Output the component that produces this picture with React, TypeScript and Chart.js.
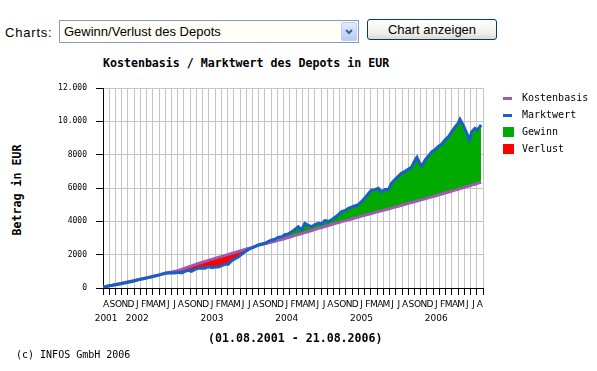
import React, { useEffect, useRef } from "react";
import { Chart, registerables } from "chart.js";

Chart.register(...registerables);

// ---------- data ----------
const monthLetters = [
  "A", "S", "O", "N", "D",
  "J", "F", "M", "A", "M", "J", "J", "A", "S", "O", "N", "D",
  "J", "F", "M", "A", "M", "J", "J", "A", "S", "O", "N", "D",
  "J", "F", "M", "A", "M", "J", "J", "A", "S", "O", "N", "D",
  "J", "F", "M", "A", "M", "J", "J", "A", "S", "O", "N", "D",
  "J", "F", "M", "A", "M", "J", "J", "A",
];
const yearSlots = [0, 5, 17, 29, 41, 53];
const yearLabels = ["2001", "2002", "2003", "2004", "2005", "2006"];

const yTickValues = [0, 2000, 4000, 6000, 8000, 10000, 12000];
const yTickLabels = ["0", "2000", "4000", "6000", "8000", "10.000", "12.000"];

// position in months since 01.08.2001
const monthPos = [
  0, 0.5, 1, 1.5, 2, 2.5, 3, 3.5, 4, 4.5, 5, 5.5, 6, 6.5, 7, 7.5, 8, 8.5, 9, 9.5, 10, 10.5, 11,
  11.56, 12.09, 12.63, 13.16, 13.7, 14.2, 14.77, 15.3, 15.84, 16.37, 16.9, 17.45, 17.98, 18.5,
  19.05, 19.6, 20.1, 20.65, 21.2, 21.7, 22.26, 22.8, 23.3, 23.9, 24.4, 24.9, 25.5, 26.0, 26.5,
  27.1, 27.6, 28.1, 28.7, 29.2,
  29.7, 30.3, 30.7, 31.35, 31.9, 32.4, 33.0, 33.5, 34.0, 34.6, 35.1, 35.6, 36.2, 36.7, 37.2,
  37.8, 38.3, 38.9, 39.4, 39.9, 40.4, 41.0, 41.5, 42.3, 43.1, 43.6, 44.2, 44.7, 45.3, 45.8,
  46.3, 46.9, 47.4, 47.9, 48.5, 49.0, 49.5, 50.1, 50.4, 50.8, 51.2, 51.7, 52.2, 52.8, 53.3,
  53.8, 54.4, 54.9, 55.5, 56.0, 56.5, 57.0, 57.3, 57.8, 58.4, 58.8, 59.2, 59.7, 60.0, 60.5, 60.7,
];

const marktwert = [
  60, 90, 130, 160, 200, 230, 270, 300, 340, 380, 420, 470, 520, 560, 600, 650, 690, 740, 780, 830, 880, 910, 900,
  900, 940, 900, 1000, 1060, 1000, 1120, 1180, 1200, 1180, 1280, 1220, 1260, 1260,
  1340, 1420, 1420, 1640, 1760, 1860, 2020, 2180, 2300, 2400, 2480, 2580, 2640, 2680, 2780,
  2880, 2920, 3040, 3080, 3200,
  3240, 3380, 3480, 3680, 3480, 3880, 3750, 3680, 3800, 3880, 3850, 4040, 4000, 4080, 4240,
  4400, 4580, 4650, 4780, 4850, 4920, 5000, 5180, 5520, 5880, 5900, 5980, 5780, 5920, 5880,
  6280, 6520, 6700, 6880, 7000, 7120, 7240, 7680, 7840, 7500, 7320, 7680, 7900, 8180, 8300,
  8480, 8650, 8880, 9100, 9380, 9650, 9880, 10120, 9780, 9280, 8880, 9380, 9580, 9480, 9680, 9780,
];

const kostenbasis = [
  50, 90, 130, 170, 210, 250, 290, 330, 370, 410, 450, 490, 530, 570, 610, 650, 690, 740, 790, 840, 880, 920, 960,
  1000, 1060, 1120, 1190, 1260, 1330, 1400, 1470, 1540, 1600, 1660, 1720, 1780, 1840,
  1900, 1960, 2020, 2080, 2140, 2200, 2260, 2320, 2380, 2440, 2500, 2560, 2610, 2650, 2700,
  2750, 2800, 2860, 2910, 2970,
  3030, 3090, 3140, 3210, 3270, 3330, 3390, 3450, 3510, 3580, 3630, 3690, 3750, 3810, 3860,
  3920, 3980, 4040, 4090, 4140, 4190, 4260, 4310, 4390, 4470, 4520, 4580, 4630, 4690, 4740,
  4790, 4850, 4900, 4960, 5020, 5080, 5130, 5190, 5220, 5260, 5300, 5350, 5410, 5470, 5520,
  5580, 5640, 5700, 5760, 5810, 5870, 5920, 5960, 6010, 6080, 6120, 6170, 6220, 6260, 6320, 6350,
];

// ---------- styles ----------
const BLUE = "#1a5fc2";
const PURPLE = "#a05ab4";
const GREEN = "#00aa00";
const RED = "#ff0000";
const GRID = "#c4c4c4";
const MONO = "'DejaVu Sans Mono', monospace";
const SANS = "'Liberation Sans', Arial, sans-serif";

export default function App() {
  const canvasRef = useRef<HTMLCanvasElement | null>(null);

  useEffect(() => {
    const canvas = canvasRef.current;
    if (!canvas) return;
    const chart = new Chart(canvas, {
      type: "line",
      data: {
        datasets: [
          {
            label: "Marktwert",
            data: monthPos.map((x, i) => ({ x, y: marktwert[i] })),
            borderColor: BLUE,
            borderWidth: 3,
            pointRadius: 0,
            tension: 0,
            fill: { target: 1, above: GREEN, below: RED },
          },
          {
            label: "Kostenbasis",
            data: monthPos.map((x, i) => ({ x, y: kostenbasis[i] })),
            borderColor: PURPLE,
            borderWidth: 3,
            pointRadius: 0,
            tension: 0,
            fill: false,
          },
        ],
      },
      options: {
        responsive: false,
        animation: false,
        events: [],
        layout: { padding: { top: 88, right: 114, bottom: 0, left: 0 } },
        plugins: {
          legend: { display: false },
          title: { display: false },
          tooltip: { enabled: false },
          filler: { drawTime: "beforeDatasetsDraw" },
        } as any,
        scales: {
          x: {
            type: "linear",
            min: 0,
            max: monthLetters.length,
            afterBuildTicks: (scale: any) => {
              scale.ticks = monthLetters.map((_, i) => ({ value: i + 0.5 }));
            },
            afterFit: (scale: any) => {
              scale.height = 83;
            },
            grid: {
              offset: true,
              color: GRID,
              tickColor: "#000",
              tickLength: 7,
              lineWidth: 1,
            },
            border: { color: "#000", width: 1 },
            ticks: {
              autoSkip: false,
              maxRotation: 0,
              minRotation: 0,
              padding: 3,
              color: "#000",
              font: { family: "'DejaVu Sans', sans-serif", size: 9, lineHeight: 1.55 },
              callback: (_v: any, index: number) => {
                const yi = yearSlots.indexOf(index);
                return yi >= 0 ? [monthLetters[index], yearLabels[yi]] : monthLetters[index];
              },
            },
          },
          y: {
            type: "linear",
            min: 0,
            max: 12000,
            afterBuildTicks: (scale: any) => {
              scale.ticks = yTickValues.map((v) => ({ value: v }));
            },
            afterFit: (scale: any) => {
              scale.width = 103;
            },
            grid: {
              color: GRID,
              tickColor: "#000",
              tickLength: 7,
              lineWidth: 1,
            },
            border: { color: "#000", width: 1 },
            ticks: {
              padding: 9,
              color: "#000",
              font: { family: MONO, size: 8 },
              callback: (_v: any, index: number) => yTickLabels[index],
            },
          },
        },
      } as any,
    });
    return () => chart.destroy();
  }, []);

  const legendText: React.CSSProperties = {
    position: "absolute",
    left: 522,
    fontFamily: MONO,
    fontSize: 10,
    lineHeight: "12px",
    color: "#000",
    whiteSpace: "pre",
  };

  return (
    <div
      style={{
        position: "absolute",
        left: 0,
        top: 0,
        width: 597,
        height: 371,
        background: "#fff",
        overflow: "hidden",
      }}
    >
      {/* controls */}
      <span
        style={{
          position: "absolute",
          left: 5,
          top: 25,
          fontFamily: SANS,
          fontSize: 13,
          lineHeight: "16px",
          letterSpacing: 0.8,
          color: "#000",
        }}
      >
        Charts:
      </span>
      <div
        style={{
          position: "absolute",
          left: 59,
          top: 20,
          width: 300,
          height: 23,
          boxSizing: "border-box",
          border: "1px solid #7f9db9",
          background: "#fffff8",
        }}
      >
        <span
          style={{
            position: "absolute",
            left: 4,
            top: 0,
            fontFamily: SANS,
            fontSize: 13,
            lineHeight: "21px",
            color: "#000",
            whiteSpace: "pre",
          }}
        >
          Gewinn/Verlust des Depots
        </span>
        <div
          style={{
            position: "absolute",
            right: 1,
            top: 1,
            width: 16,
            height: 19,
            boxSizing: "border-box",
            border: "1px solid #bccff6",
            borderRadius: 2,
            background: "linear-gradient(#e2ebfe, #b6cbf6)",
          }}
        >
          <svg width="14" height="17" style={{ position: "absolute", left: 0, top: 0 }}>
            <polyline points="4,7 7,10 10,7" fill="none" stroke="#4d6185" strokeWidth="2" />
          </svg>
        </div>
      </div>
      <div
        style={{
          position: "absolute",
          left: 367,
          top: 19,
          width: 130,
          height: 21,
          boxSizing: "border-box",
          border: "1px solid #003c74",
          borderRadius: 3,
          background: "linear-gradient(#ffffff, #f0efe9 70%, #dcd9cd)",
          fontFamily: SANS,
          fontSize: 13,
          lineHeight: "19px",
          textAlign: "center",
          color: "#000",
        }}
      >
        Chart anzeigen
      </div>

      {/* title */}
      <div
        style={{
          position: "absolute",
          left: 103,
          top: 56,
          fontFamily: MONO,
          fontWeight: "bold",
          fontSize: 11.6,
          lineHeight: "14px",
          whiteSpace: "pre",
          color: "#000",
        }}
      >
        Kostenbasis / Marktwert des Depots in EUR
      </div>

      {/* y axis title */}
      <div
        style={{
          position: "absolute",
          left: 17,
          top: 190,
          transform: "translate(-50%, -50%) rotate(-90deg)",
          fontFamily: MONO,
          fontWeight: "bold",
          fontSize: 11.6,
          lineHeight: "14px",
          whiteSpace: "pre",
          color: "#000",
        }}
      >
        Betrag in EUR
      </div>

      <canvas
        ref={canvasRef}
        width={597}
        height={371}
        style={{ position: "absolute", left: 0, top: 0, width: 597, height: 371 }}
      />

      {/* legend */}
      <div style={{ position: "absolute", left: 503, top: 97, width: 9, height: 3, background: PURPLE }} />
      <div style={{ ...legendText, top: 92 }}>Kostenbasis</div>
      <div style={{ position: "absolute", left: 503, top: 114, width: 9, height: 3, background: BLUE }} />
      <div style={{ ...legendText, top: 109 }}>Marktwert</div>
      <div style={{ position: "absolute", left: 503, top: 127, width: 11, height: 10, background: GREEN }} />
      <div style={{ ...legendText, top: 126 }}>Gewinn</div>
      <div style={{ position: "absolute", left: 503, top: 144, width: 11, height: 10, background: RED }} />
      <div style={{ ...legendText, top: 143 }}>Verlust</div>

      {/* date range */}
      <div
        style={{
          position: "absolute",
          left: 208,
          top: 331,
          fontFamily: MONO,
          fontWeight: "bold",
          fontSize: 11.6,
          lineHeight: "14px",
          whiteSpace: "pre",
          color: "#000",
        }}
      >
        (01.08.2001 - 21.08.2006)
      </div>

      {/* copyright */}
      <div
        style={{
          position: "absolute",
          left: 16,
          top: 349,
          fontFamily: MONO,
          fontSize: 10,
          lineHeight: "12px",
          whiteSpace: "pre",
          color: "#000",
        }}
      >
        (c) INFOS GmbH 2006
      </div>
    </div>
  );
}
